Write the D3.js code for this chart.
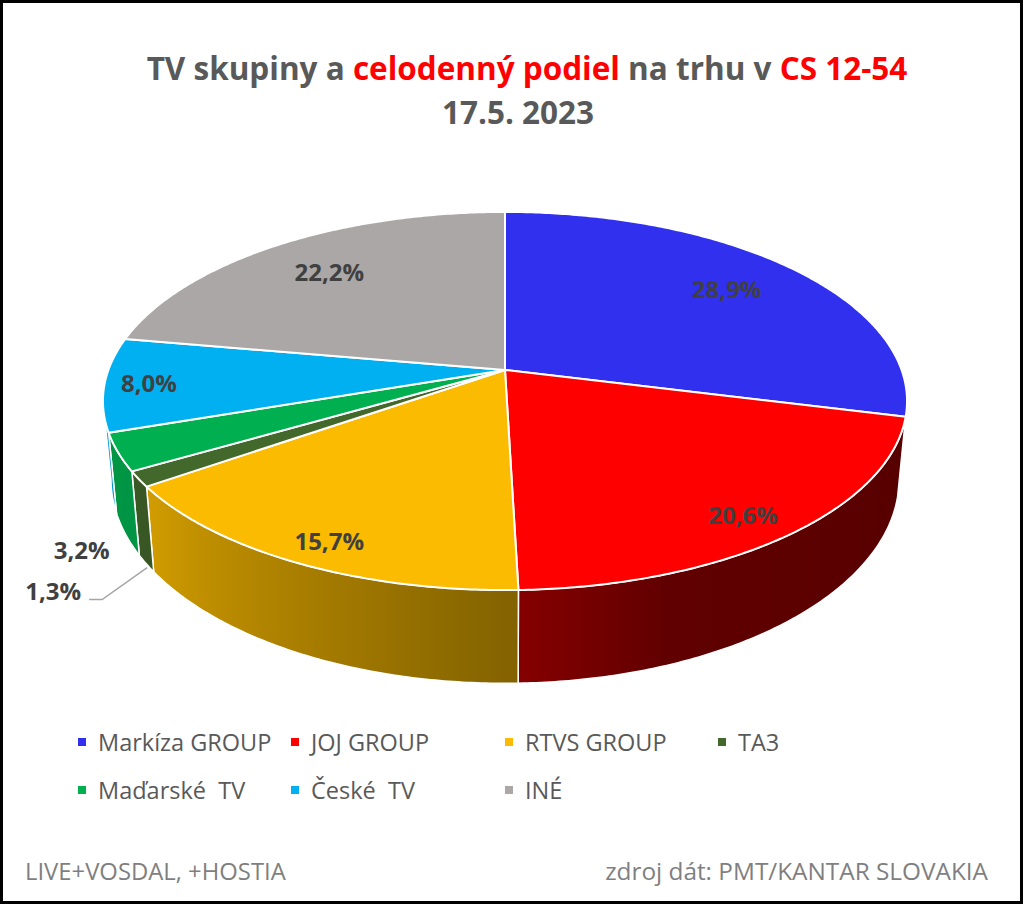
<!DOCTYPE html>
<html>
<head>
<meta charset="utf-8">
<script src="https://cdn.jsdelivr.net/npm/d3@7"></script>
<style>
  body { margin: 0; background: #fff; }
  svg { display: block; font-family: "Open Sans", "Noto Sans", sans-serif; }
</style>
</head>
<body>
<svg id="chart" width="1024" height="905"></svg>
<script>
// data
var categories = ["Markíza GROUP", "JOJ GROUP", "RTVS GROUP", "TA3", "Maďarské  TV", "České  TV", "INÉ"];
var values = [28.9, 20.6, 15.7, 1.3, 3.2, 8.0, 22.2];
var colors = ["#3030EE", "#FF0000", "#FABB00", "#43682B", "#00B050", "#00B0F0", "#ABA7A6"];
var titleParts = [
    { text: "TV skupiny a ", red: false },
    { text: "celodenný podiel", red: true },
    { text: " na trhu v ", red: false },
    { text: "CS 12-54", red: true }
];
var subtitle = "17.5. 2023";
var footLeft = "LIVE+VOSDAL, +HOSTIA";
var footRight = "zdroj dát: PMT/KANTAR SLOVAKIA";

var svg = d3.select("#chart");
var defs = svg.append("defs");

svg.append("rect")
    .attr("x", 1.5).attr("y", 1.5)
    .attr("width", 1020).attr("height", 901)
    .attr("fill", "#fff")
    .attr("stroke", "#000")
    .attr("stroke-width", 3);

/* title, fitted to the width it has in the picture */
function fitText(sel, targetWidth) {
    var size = parseFloat(sel.style("font-size"));
    var w = sel.node().getComputedTextLength();
    sel.style("font-size", (size * targetWidth / w) + "px");
}

var title = svg.append("text")
    .attr("x", 527).attr("y", 80)
    .attr("text-anchor", "middle")
    .style("font-weight", "bold")
    .style("font-size", "27px");
title.selectAll("tspan")
    .data(titleParts)
    .enter().append("tspan")
    .attr("fill", function (d) { return d.red ? "#FF0000" : "#595959"; })
    .text(function (d) { return d.text; });
fitText(title, 761);

svg.append("text")
    .attr("x", 518).attr("y", 124)
    .attr("text-anchor", "middle")
    .attr("fill", "#595959")
    .style("font-weight", "bold")
    .style("font-size", title.style("font-size"))
    .text(subtitle);

/* 3D pie, projected with a bit of perspective */
var cx = 505, cy = 370, RX = 396.6, RY = 184, P = 0.164;
var H = 76, RY2 = 198.4, BX = 0.98;

function proj(theta, r, bottom) {
    var u = r * Math.sin(theta), v = -r * Math.cos(theta);
    var w = 1 / (1 - P * v);
    if (!bottom) return [cx + RX * u * w, cy + RY * v * w];
    return [cx + RX * BX * u * w, cy + H + RY2 * v * w];
}

function arcPoints(a0, a1, bottom) {
    var n = Math.max(2, Math.ceil(Math.abs(a1 - a0) / 0.01));
    var pts = [];
    for (var i = 0; i <= n; i++) {
        pts.push(proj(a0 + (a1 - a0) * i / n, 1, bottom));
    }
    return pts;
}

var pie = d3.pie().sort(null).startAngle(0).endAngle(2 * Math.PI);
var arcs = pie(values);
var line = d3.line();

var deg = Math.PI / 180;
var shade = d3.scaleLinear()
    .domain([99 * deg, 160 * deg, 178 * deg, 235 * deg, 261 * deg])
    .range([0.33, 0.38, 0.52, 0.84, 0.87])
    .clamp(true);

function darker(c, k) {
    var rgb = d3.rgb(c);
    return d3.rgb(rgb.r * k, rgb.g * k, rgb.b * k);
}

// visible front rim
var vis0 = Math.acos(-P), vis1 = 2 * Math.PI - Math.acos(-P);

var sides = svg.append("g");
arcs.forEach(function (a, i) {
    var s = Math.max(a.startAngle, vis0), e = Math.min(a.endAngle, vis1);
    if (e <= s) return;
    var top = arcPoints(s, e, false);
    var bot = arcPoints(e, s, true);
    var x1 = top[0][0], x2 = top[top.length - 1][0];
    var grad = defs.append("linearGradient")
        .attr("id", "side" + i)
        .attr("gradientUnits", "userSpaceOnUse")
        .attr("x1", x1).attr("x2", x2).attr("y1", 0).attr("y2", 0);
    d3.range(0, 21).forEach(function (k) {
        var t = s + (e - s) * k / 20;
        var x = proj(t, 1, false)[0];
        grad.append("stop")
            .attr("offset", Math.abs(x2 - x1) < 1e-6 ? k / 20 : (x - x1) / (x2 - x1))
            .attr("stop-color", darker(colors[i], shade(t)));
    });
    sides.append("path")
        .attr("d", line(top.concat(bot)) + "Z")
        .attr("fill", "url(#side" + i + ")")
        .attr("stroke", "#fff")
        .attr("stroke-width", 1.5)
        .attr("stroke-linejoin", "round");
});

var tops = svg.append("g");
tops.selectAll("path")
    .data(arcs)
    .enter().append("path")
    .attr("d", function (a) {
        return line([[cx, cy]].concat(arcPoints(a.startAngle, a.endAngle, false))) + "Z";
    })
    .attr("fill", function (a, i) { return colors[i]; })
    .attr("stroke", "#fff")
    .attr("stroke-width", 2)
    .attr("stroke-linejoin", "round");

/* data labels */
var fmt = function (v) { return d3.format(".1f")(v).replace(".", ",") + "%"; };
var labels = svg.append("g")
    .attr("fill", "#404040")
    .style("font-weight", "bold")
    .style("font-size", "24px");

// small slices go outside, the smaller one lower with a leader line
var small = arcs.filter(function (d) { return d.value < 5; })
    .sort(function (p, q) { return q.value - p.value; });

arcs.forEach(function (a, i) {
    var mid = (a.startAngle + a.endAngle) / 2;
    var v = -Math.cos(mid);
    if (values[i] >= 5) {
        var r = 0.8 + 0.07 * Math.max(v, 0) + 0.06 * Math.min(v, 0) + (values[i] < 10 ? 0.085 : 0);
        var p = proj(mid, r, false);
        labels.append("text")
            .attr("x", p[0])
            .attr("y", p[1] + 10 * Math.max(v, 0))
            .attr("dy", "0.35em")
            .attr("text-anchor", "middle")
            .text(fmt(values[i]));
        return;
    }
    var b = proj(mid, 1, true);
    if (small.indexOf(a) === 0) {
        labels.append("text")
            .attr("x", b[0] - 16).attr("y", b[1] + 24)
            .attr("text-anchor", "end")
            .text(fmt(values[i]));
    } else {
        svg.append("path")
            .attr("d", line([[b[0] + 1, b[1] + 4], [b[0] - 44, b[1] + 36], [b[0] - 57, b[1] + 36]]))
            .attr("fill", "none")
            .attr("stroke", "#A6A6A6")
            .attr("stroke-width", 1.5);
        labels.append("text")
            .attr("x", b[0] - 65).attr("y", b[1] + 36)
            .attr("text-anchor", "end")
            .text(fmt(values[i]));
    }
});

/* legend */
var colX = [78, 291, 505, 718], rowY = [751, 799];
var legend = svg.append("g");
var items = legend.selectAll("g")
    .data(categories)
    .enter().append("g")
    .attr("transform", function (d, i) {
        return "translate(" + colX[i % 4] + "," + rowY[Math.floor(i / 4)] + ")";
    });
items.append("rect")
    .attr("x", 0).attr("y", -13)
    .attr("width", 8).attr("height", 8)
    .attr("fill", function (d, i) { return colors[i]; });
items.append("text")
    .attr("x", 20).attr("y", 0)
    .attr("fill", "#595959")
    .style("font-size", "23.5px")
    .style("white-space", "pre")
    .text(function (d) { return d; });

/* footer */
var fl = svg.append("text")
    .attr("x", 25).attr("y", 880)
    .attr("fill", "#7F7F7F")
    .style("font-size", "20px")
    .text(footLeft);
fitText(fl, 261);
var fr = svg.append("text")
    .attr("x", 988).attr("y", 880)
    .attr("text-anchor", "end")
    .attr("fill", "#7F7F7F")
    .style("font-size", "20px")
    .text(footRight);
fitText(fr, 383);
</script>
</body>
</html>
